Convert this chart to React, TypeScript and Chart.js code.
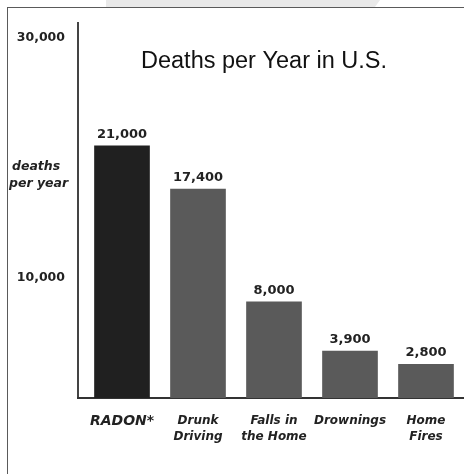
import React, { useEffect, useRef } from "react";
import { Chart, registerables } from "chart.js";

Chart.register(...registerables);

const categories: (string | string[])[] = [
  "RADON*",
  ["Drunk", "Driving"],
  ["Falls in", "the Home"],
  "Drownings",
  ["Home", "Fires"],
];
const deaths: number[] = [21000, 17400, 8000, 3900, 2800];
const barColors: string[] = ["#202020", "#5a5a5a", "#5a5a5a", "#5a5a5a", "#5a5a5a"];
const yTickValues: number[] = [10000, 30000];
const chartTitle = "Deaths per Year in U.S.";
const yAxisNote: string[] = ["deaths", "per year"];

const fmt = (v: number) => v.toLocaleString("en-US");

const overlayPlugin = {
  id: "overlay",
  afterDraw(chart: any) {
    const ctx = chart.ctx as CanvasRenderingContext2D;
    const area = chart.chartArea;
    const xs = chart.scales.x;
    const ys = chart.scales.y;
    const meta = chart.getDatasetMeta(0);
    ctx.save();
    // y axis line (set slightly left of the plot area)
    const axisX = Math.round(area.left - 6);
    const baseY = Math.round(xs.top);
    ctx.fillStyle = "#444";
    ctx.fillRect(axisX - 1, area.top, 2, baseY - area.top + 1);
    // extend baseline to the y axis
    ctx.fillStyle = "#333";
    ctx.fillRect(axisX - 1, baseY - 1, area.left - axisX + 1, 2);

    // y tick labels from the y scale
    ctx.fillStyle = "#222";
    ctx.font = "bold 12.5px 'DejaVu Sans'";
    ctx.textAlign = "right";
    ctx.textBaseline = "middle";
    yTickValues.forEach((v) => {
      ctx.fillText(fmt(v), 57, ys.getPixelForValue(v));
    });

    // value labels above bars
    ctx.font = "bold 13px 'DejaVu Sans'";
    ctx.textAlign = "center";
    ctx.textBaseline = "alphabetic";
    meta.data.forEach((bar: any, i: number) => {
      ctx.fillText(fmt(deaths[i]), bar.x, bar.y - 8);
    });

    // title
    ctx.fillStyle = "#111";
    ctx.font = "23.5px 'Liberation Sans'";
    ctx.fillText(chartTitle, 256, 60);

    // y axis note
    ctx.fillStyle = "#222";
    ctx.font = "italic bold 12.5px 'DejaVu Sans'";
    ctx.textAlign = "left";
    ctx.fillText(yAxisNote[0], 4, 162);
    ctx.fillText(yAxisNote[1], 1, 179);
    ctx.restore();
  },
};

export default function App() {
  const ref = useRef<HTMLCanvasElement | null>(null);
  useEffect(() => {
    if (!ref.current) return;
    const chart = new Chart(ref.current, {
      type: "bar",
      data: {
        labels: categories,
        datasets: [
          {
            data: deaths,
            backgroundColor: barColors,
            borderWidth: 0,
            barThickness: 55,
          },
        ],
      },
      options: {
        responsive: false,
        animation: false,
        layout: { padding: { left: 0, right: 0, top: 14, bottom: 0 } },
        plugins: {
          legend: { display: false },
          tooltip: { enabled: false },
          title: { display: false },
        },
        scales: {
          x: {
            grid: { display: false },
            border: { display: true, color: "#333", width: 2 },
            afterFit: (s: any) => {
              s.height = 76;
            },
            ticks: {
              color: "#222",
              padding: 6,
              maxRotation: 0,
              autoSkip: false,
              font: (c: any) =>
                c.index === 0
                  ? { family: "'DejaVu Sans'", size: 14, weight: "bold", style: "italic", lineHeight: 1.4 }
                  : { family: "'DejaVu Sans'", size: 12, weight: "bold", style: "italic", lineHeight: 1.4 },
            },
          },
          y: {
            min: 0,
            max: 31300,
            grid: { display: false },
            border: { display: false },
            afterFit: (s: any) => {
              s.width = 76;
            },
            ticks: { display: false },
          },
        },
      },
      plugins: [overlayPlugin],
    });
    return () => chart.destroy();
  }, []);

  return (
    <div style={{ position: "fixed", left: 0, top: 0, width: 464, height: 474, background: "#fff", overflow: "hidden" }}>
      <div
        style={{
          position: "absolute",
          left: 106,
          top: 0,
          width: 274,
          height: 7,
          background: "#e9e9e9",
          clipPath: "polygon(0 0, 100% 0, calc(100% - 5px) 100%, 0 100%)",
        }}
      />
      <div
        style={{
          position: "absolute",
          left: 7,
          top: 7,
          width: 480,
          height: 480,
          borderLeft: "1px solid #5a5a5a",
          borderTop: "1px solid #5a5a5a",
        }}
      />
      <div style={{ position: "absolute", left: 8, top: 8, width: 456, height: 466 }}>
        <canvas ref={ref} width={456} height={466} style={{ width: 456, height: 466, display: "block" }} />
      </div>
    </div>
  );
}
